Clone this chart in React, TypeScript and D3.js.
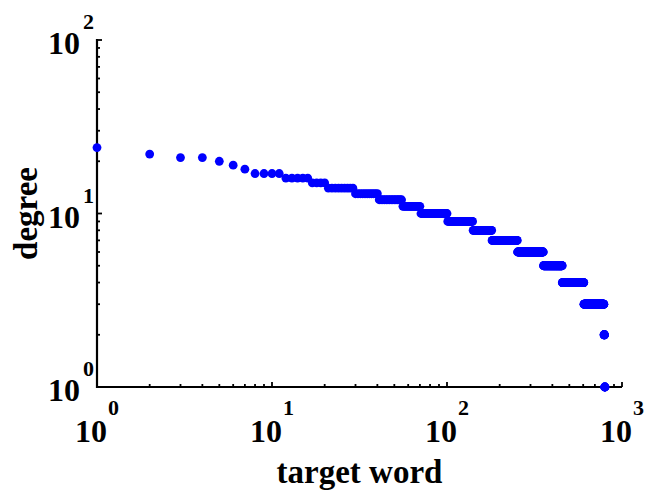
import React from "react";
import * as d3 from "d3";

// step levels of the rank/degree plot: degree value and the last rank that has it
const levelDegrees = [24, 22, 21, 20, 19, 18, 17, 16, 15, 14, 13, 12, 11, 10, 9, 8, 7, 6, 5, 4, 3, 2, 1];
const levelLastRank = [1, 2, 4, 5, 6, 7, 11, 16, 20, 29, 40, 55, 70, 100, 140, 180, 252, 355, 455, 605, 788, 795, 800];

const xDomain = [1, 1000];
const yDomain = [1, 100];
const xExponents = ["0", "1", "2", "3"];
const yExponents = ["0", "1", "2"];

const FONT = "'Times New Roman', 'Liberation Serif', serif";

export default function App() {
  const width = 645;
  const height = 490;
  const margin = { top: 40, right: 23, bottom: 103, left: 97 };

  const x = d3.scaleLog().domain(xDomain).range([margin.left, width - margin.right]);
  const y = d3.scaleLog().domain(yDomain).range([height - margin.bottom, margin.top]);

  // expand the step levels into one point per rank
  const points: { rank: number; degree: number }[] = [];
  let rank = 1;
  levelDegrees.forEach((deg, i) => {
    for (; rank <= levelLastRank[i]; rank++) points.push({ rank, degree: deg });
  });

  const x0 = x.range()[0];
  const x1 = x.range()[1];
  const y0 = y.range()[0];
  const y1 = y.range()[1];

  const isMajor = (v: number) => Math.abs(Math.log10(v) - Math.round(Math.log10(v))) < 1e-9;
  const xTicks = x.ticks();
  const yTicks = y.ticks();
  const xMajors = xTicks.filter(isMajor);
  const yMajors = yTicks.filter(isMajor);

  return (
    <svg
      width={width}
      height={height}
      style={{ position: "absolute", left: 0, top: 0, background: "#fff" }}
      fontFamily={FONT}
      fontWeight="bold"
    >
      <rect width={width} height={height} fill="#fff" />

      {/* axis lines */}
      <line x1={x0} x2={x0} y1={y1 - 1} y2={y0 + 1} stroke="#000" strokeWidth={2.2} />
      <line x1={x0 - 1} x2={x1} y1={y0} y2={y0} stroke="#000" strokeWidth={2.2} />

      {/* inward ticks */}
      {xTicks.map((t, i) => (
        <line
          key={"xt" + i}
          x1={x(t)}
          x2={x(t)}
          y1={y0}
          y2={y0 - (isMajor(t) ? 5 : 3)}
          stroke="#000"
          strokeWidth={1.8}
        />
      ))}
      {yTicks.map((t, i) => (
        <line
          key={"yt" + i}
          x1={x0}
          x2={x0 + (isMajor(t) ? 5 : 3)}
          y1={y(t)}
          y2={y(t)}
          stroke="#000"
          strokeWidth={1.8}
        />
      ))}

      {/* x tick labels */}
      {xMajors.map((t, i) => (
        <g key={"xl" + i}>
          <text x={x(t) - 6} y={y0 + 55} textAnchor="middle" fontSize={32}>
            10
          </text>
          <text x={x(t) + 11} y={y0 + 28} textAnchor="start" fontSize={22}>
            {xExponents[i]}
          </text>
        </g>
      ))}

      {/* y tick labels */}
      {yMajors.map((t, i) => (
        <g key={"yl" + i}>
          <text x={x0 - 17} y={y(t) + 14} textAnchor="end" fontSize={32}>
            10
          </text>
          <text x={x0 - 14} y={y(t) - 11} textAnchor="start" fontSize={22}>
            {yExponents[i]}
          </text>
        </g>
      ))}

      {/* points */}
      {points.map((p, i) => (
        <circle key={i} cx={x(p.rank)} cy={y(p.degree)} r={4.4} fill="#0000ff" />
      ))}

      {/* axis titles */}
      <text x={(x0 + x1) / 2} y={483} textAnchor="middle" fontSize={33}>
        target word
      </text>
      <text
        transform={`translate(37, ${(y0 + y1) / 2}) rotate(-90)`}
        textAnchor="middle"
        fontSize={33}
      >
        degree
      </text>
    </svg>
  );
}
